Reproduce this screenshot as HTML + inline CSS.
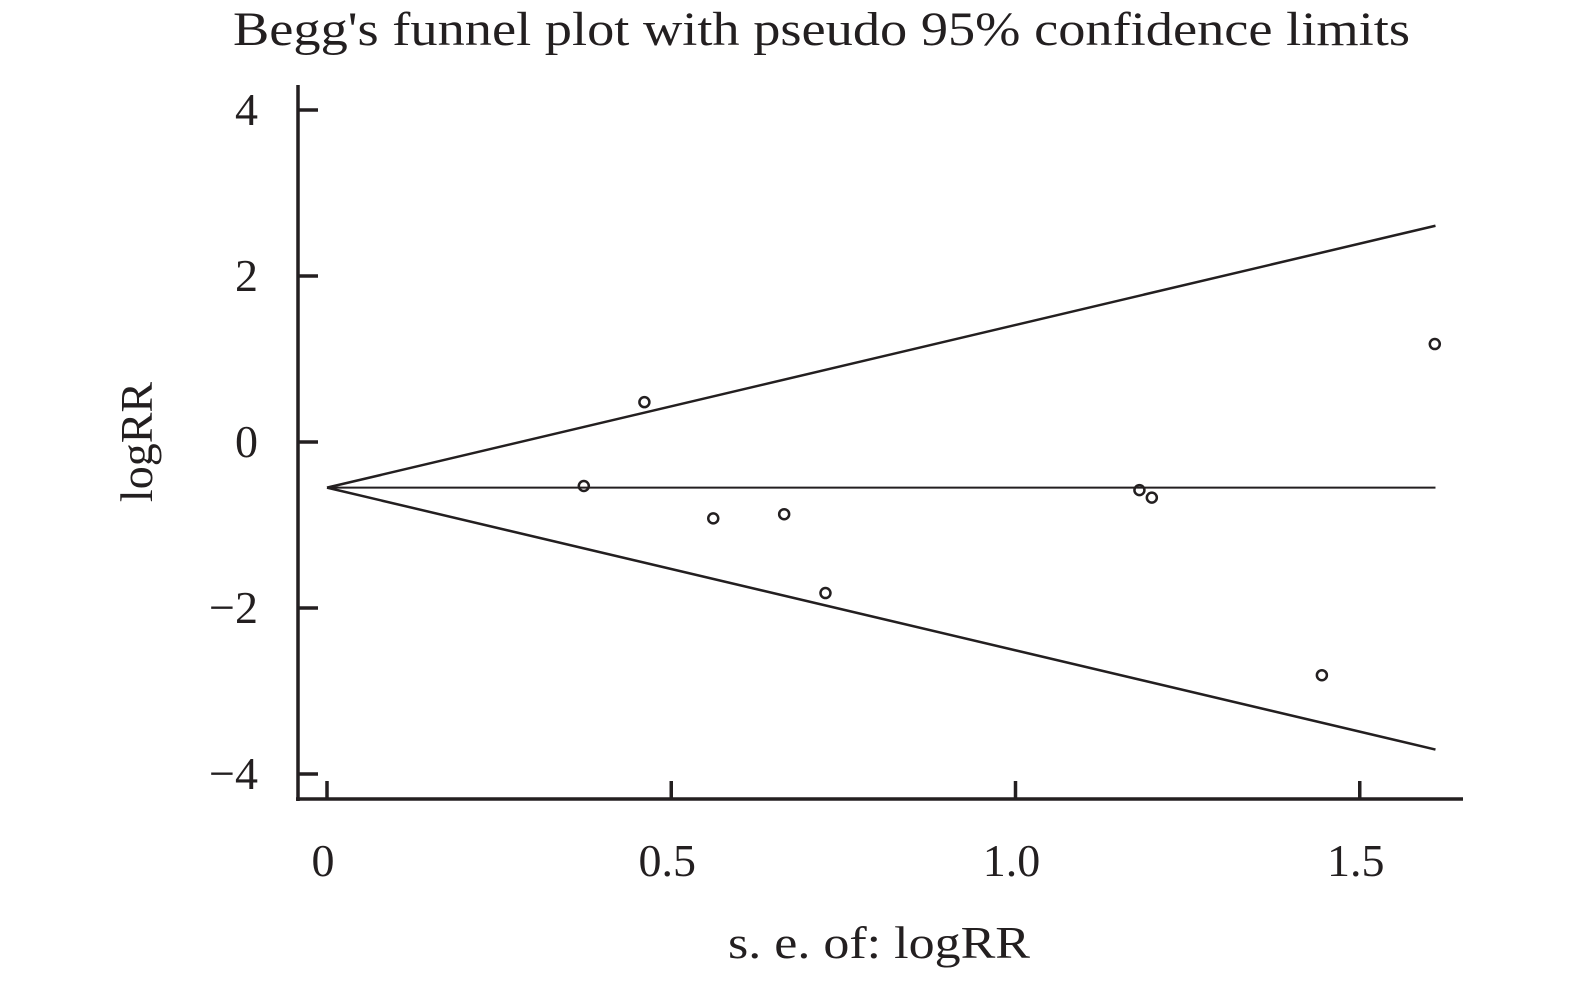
<!DOCTYPE html>
<html><head><meta charset="utf-8"><style>
body{margin:0;background:#fff;}
svg text{font-family:"Liberation Serif",serif;fill:#231f20;}
</style></head><body>
<svg width="1575" height="983" viewBox="0 0 1575 983">
<text x="233" y="45" font-size="48" textLength="1177" lengthAdjust="spacingAndGlyphs">Begg's funnel plot with pseudo 95% confidence limits</text>
<text x="728" y="958" font-size="46" textLength="302" lengthAdjust="spacingAndGlyphs">s. e. of: logRR</text>
<text transform="translate(152,442) rotate(-90)" font-size="46" text-anchor="middle">logRR</text>
<g id="axes"></g>
<g id="marks"></g>
</svg>
<script>
const xTicks=[0,0.5,1.0,1.5];
const xTickLabels=["0","0.5","1.0","1.5"];
const yTicks=[4,2,0,-2,-4];
const yTickLabels=["4","2","0","\u22122","\u22124"];
const pooled=[-0.55];
const maxSE=[1.61];
const seValues=[0.373,0.461,0.561,0.664,0.724,1.180,1.198,1.445,1.609];
const logRRValues=[-0.53,0.48,-0.92,-0.87,-1.82,-0.58,-0.67,-2.81,1.18];

const NS="http://www.w3.org/2000/svg";
const X=v=>327+v*688.5;
const Y=v=>442-v*83;
const axes=document.getElementById('axes');
const marks=document.getElementById('marks');
function mk(tag,attrs,parent){const e=document.createElementNS(NS,tag);for(const k in attrs)e.setAttribute(k,attrs[k]);parent.appendChild(e);return e;}
let e;
e=mk('line',{x1:298,y1:85,x2:298,y2:801,stroke:'#231f20','stroke-width':3.5},axes);


e=mk('line',{x1:296,y1:799,x2:1463,y2:799,stroke:'#231f20','stroke-width':3.5},axes);


xTicks.forEach((t,i)=>{
 let l=mk('line',{x1:X(t),y1:781,x2:X(t),y2:799,stroke:'#231f20','stroke-width':3.5},axes);
 
 
 let tx=mk('text',{x:X(t)-4,y:876,'font-size':46,'text-anchor':'middle'},axes);
 tx.textContent=xTickLabels[i];
 
 
});
yTicks.forEach((t,i)=>{
 let l=mk('line',{x1:298,y1:Y(t),x2:318,y2:Y(t),stroke:'#231f20','stroke-width':3.5},axes);
 
 
 let tx=mk('text',{x:258,y:Y(t)+15,'font-size':46,'text-anchor':'end'},axes);
 tx.textContent=yTickLabels[i];
 
 
});
const p=pooled[0],m=maxSE[0];
e=mk('line',{x1:X(0),y1:Y(p),x2:X(m),y2:Y(p),stroke:'#231f20','stroke-width':2},marks);


e=mk('line',{x1:X(0),y1:Y(p),x2:X(m),y2:Y(p+1.96*m),stroke:'#231f20','stroke-width':2.5},marks);


e=mk('line',{x1:X(0),y1:Y(p),x2:X(m),y2:Y(p-1.96*m),stroke:'#231f20','stroke-width':2.5},marks);


seValues.forEach((s,i)=>{
 let c=mk('circle',{cx:X(s),cy:Y(logRRValues[i]),r:5,fill:'none',stroke:'#231f20','stroke-width':2.5},marks);
 
 
});
</script>
</body></html>
